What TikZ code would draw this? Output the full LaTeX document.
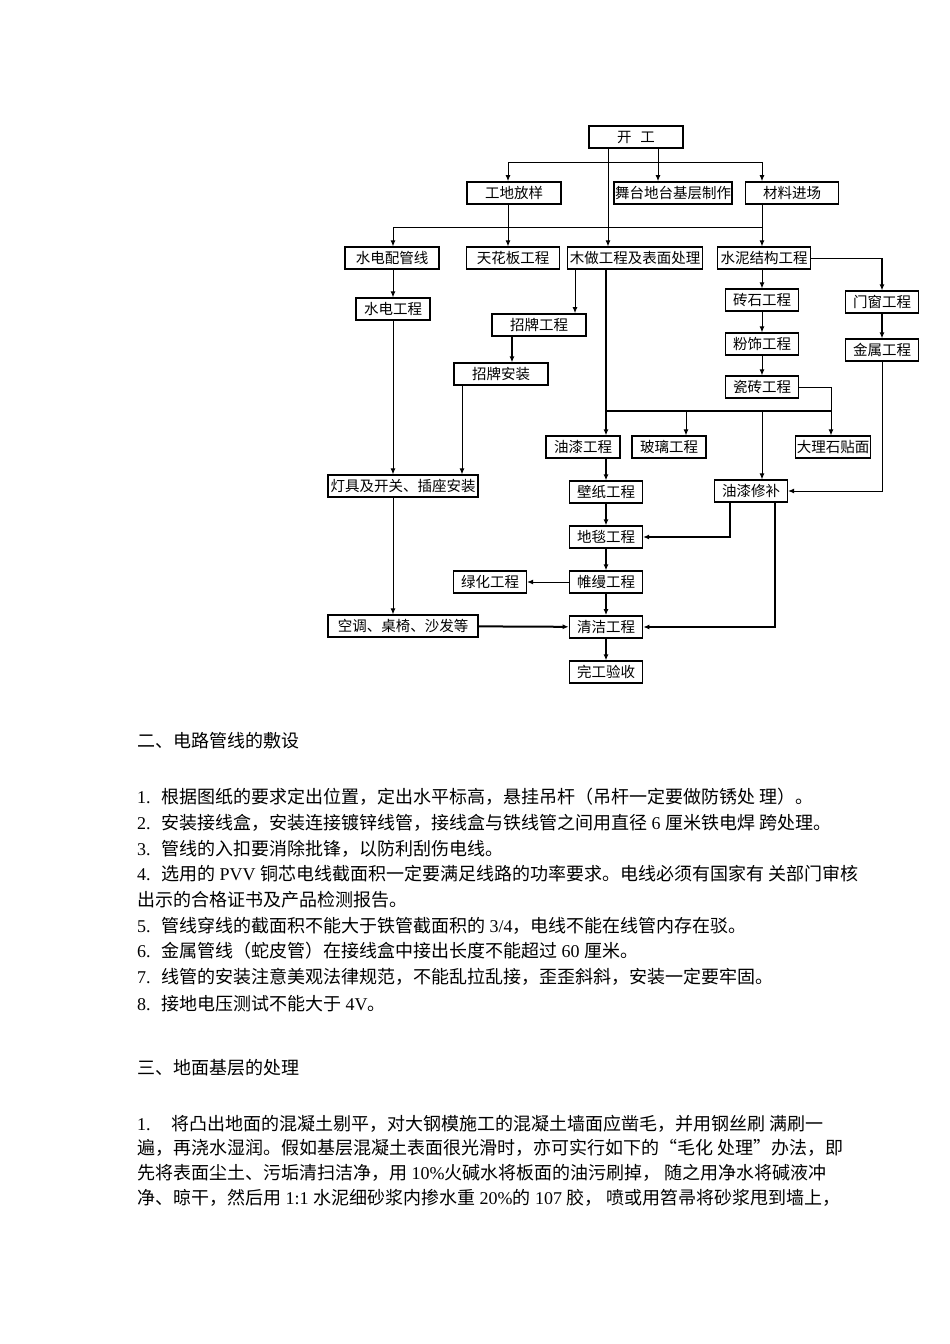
\documentclass[tikz,border=0pt]{standalone}
\usepackage{fontspec}
\setmainfont{Noto Sans CJK SC}
\newfontfamily\latn{Liberation Serif}
\usetikzlibrary{arrows.meta}
\newcommand{\itemno}[1]{\makebox[24pt][l]{\latn #1}}
\tikzset{
  box/.style={draw, line width=1.2pt, minimum height=22, inner sep=1pt, font=\fontsize{14.5}{16}\selectfont},
  heavy/.style={box, line width=1.7pt},
  txt/.style={anchor=west, inner sep=0pt, font=\fontsize{18}{20}\selectfont},
}
\begin{document}
\begin{tikzpicture}[x=1pt, y=-1pt, >={Latex[length=6pt,width=5pt]}]
		\useasboundingbox (0,0) rectangle (950,1344);
		\fill[white] (0,0) rectangle (950,1344);
		\node [box, minimum width=94] (b1) at (636,137) {开\hspace{0.6em}工};
		\node [heavy, minimum width=94] (b2) at (514,193) {工地放样};
		\node [heavy, minimum width=118] (b3) at (673,193) {舞台地台基层制作};
		\node [heavy, minimum width=93] (b4) at (792,193) {材料进场};
		\node [box, minimum width=94] (b5) at (392,258) {水电配管线};
		\node [box, minimum width=93] (b6) at (513,258) {天花板工程};
		\node [box, minimum width=135] (b7) at (635,258) {木做工程及表面处理};
		\node [box, minimum width=93] (b8) at (764,258) {水泥结构工程};
		\node [box, minimum width=74] (b9) at (393,309) {水电工程};
		\node [heavy, minimum width=94] (b10) at (539,325) {招牌工程};
		\node [box, minimum width=94] (b11) at (501,374) {招牌安装};
		\node [box, minimum width=73] (b12) at (762,300) {砖石工程};
		\node [box, minimum width=73] (b13) at (882,302) {门窗工程};
		\node [box, minimum width=73] (b14) at (762,344) {粉饰工程};
		\node [box, minimum width=73] (b15) at (882,350) {金属工程};
		\node [box, minimum width=73] (b16) at (762,387) {瓷砖工程};
		\node [box, minimum width=74] (b17) at (583,447) {油漆工程};
		\node [box, minimum width=74] (b18) at (669,447) {玻璃工程};
		\node [box, minimum width=75] (b19) at (833,447) {大理石贴面};
		\node [box, minimum width=150] (b20) at (403,486) {灯具及开关、插座安装};
		\node [box, minimum width=73] (b21) at (606,492) {壁纸工程};
		\node [box, minimum width=73] (b22) at (751,491) {油漆修补};
		\node [box, minimum width=73] (b23) at (606,537) {地毯工程};
		\node [box, minimum width=73] (b24) at (490,582) {绿化工程};
		\node [box, minimum width=73] (b25) at (606,582) {帷缦工程};
		\node [box, minimum width=150] (b26) at (403,626) {空调、桌椅、沙发等};
		\node [heavy, minimum width=73] (b27) at (606,627) {清洁工程};
		\node [box, minimum width=73] (b28) at (606,672) {完工验收};
		\coordinate (c1) at (508,162);
		\coordinate (c2) at (762,162);
		\coordinate (c3) at (393,227);
		\coordinate (c4) at (762,227);
		\coordinate (c5) at (606,411);
		\coordinate (c6) at (831,411);
		\draw[line width=1pt] (c1) -- (c2);
		\draw[line width=1pt] (c3) -- (c4);
		\draw[line width=2pt] (c5) -- (c6);
		\path[->, line width=1pt]
					(b1.south -| 658,0) edge (b3.north -| 658,0)
					(b1.south -| 608,0) edge (b7.north -| 608,0)
					(c1) edge (b2.north -| c1)
					(c2) edge (b4.north -| c2)
					(b2.south -| c1) edge (b6.north -| c1)
					(b4.south -| c2) edge (b8.north -| c2)
					(c3) edge (b5.north -| c3)
					(b5.south -| c3) edge (b9.north -| c3)
					(b7.south -| 575,0) edge (b10.north -| 575,0)
					(b8.south -| c2) edge (b12.north -| c2)
					(b12.south -| c2) edge (b14.north -| c2)
					(b14.south -| c2) edge (b16.north -| c2)
					(c5 -| 686,0) edge (b18.north -| 686,0)
					(c5 -| c2) edge (b22.north -| c2)
					(b9.south -| c3) edge (b20.north -| c3)
					(b11.south -| 462,0) edge (b20.north -| 462,0)
					(b20.south -| c3) edge (b26.north -| c3)
					(b25.west) edge (b24.east);
		\path[->, line width=2pt]
					(b7.south -| c5) edge (b17.north -| c5)
					(b10.south -| 512,0) edge (b11.north -| 512,0)
					(b13) edge (b15)
					(b17.south -| b21) edge (b21)
					(b21) edge (b23)
					(b23) edge (b25)
					(b25) edge (b27)
					(b27) edge (b28)
					(b26) edge (b27);
		\draw[->, line width=1pt] (b16.east) -| (b19.north -| c6);
		\draw[line width=1pt] (b8.east) -- (b8.east -| b13);
		\draw[->, line width=2pt] (b8.east -| b13) -- (b13.north);
		\draw[->, line width=1pt] (b15.south) |- (b22.east);
		\draw[->, line width=2pt] (b22.south -| 730,0) |- (b23.east);
		\draw[->, line width=2pt] (b22.south -| 775,0) |- (b27.east);
		\node [txt] (h1) at (137,741) {二、电路管线的敷设};
		\node [txt] (t1) at (137,797) {\itemno{1.}根据图纸的要求定出位置，定出水平标高，悬挂吊杆（吊杆一定要做防锈处\ 理）。};
		\node [txt] (t2) at (137,823) {\itemno{2.}安装接线盒，安装连接镀锌线管，接线盒与铁线管之间用直径{\latn\ 6\ }厘米铁电焊\ 跨处理。};
		\node [txt] (t3) at (137,849) {\itemno{3.}管线的入扣要消除批锋，以防利刮伤电线。};
		\node [txt] (t4) at (137,874) {\itemno{4.}选用的{\latn\ PVV\ }铜芯电线截面积一定要满足线路的功率要求。电线必须有国家有\ 关部门审核};
		\node [txt] (t5) at (137,900) {出示的合格证书及产品检测报告。};
		\node [txt] (t6) at (137,926) {\itemno{5.}管线穿线的截面积不能大于铁管截面积的{\latn\ 3/4}，电线不能在线管内存在驳。};
		\node [txt] (t7) at (137,951) {\itemno{6.}金属管线（蛇皮管）在接线盒中接出长度不能超过{\latn\ 60\ }厘米。};
		\node [txt] (t8) at (137,977) {\itemno{7.}线管的安装注意美观法律规范，不能乱拉乱接，歪歪斜斜，安装一定要牢固。};
		\node [txt] (t9) at (137,1004) {\itemno{8.}接地电压测试不能大于{\latn\ 4V}。};
		\node [txt] (h2) at (137,1068) {三、地面基层的处理};
		\node [txt] (t10) at (137,1124) {\makebox[34pt][l]{\latn 1.}将凸出地面的混凝土剔平，对大钢模施工的混凝土墙面应凿毛，并用钢丝刷\ 满刷一};
		\node [txt] (t11) at (137,1148) {遍，再浇水湿润。假如基层混凝土表面很光滑时，亦可实行如下的“毛化\ 处理”办法，即};
		\node [txt] (t12) at (137,1173) {先将表面尘土、污垢清扫洁净，用{\latn\ 10\%}火碱水将板面的油污刷掉，\ 随之用净水将碱液冲};
		\node [txt] (t13) at (137,1198) {净、晾干，然后用{\latn\ 1:1\ }水泥细砂浆内掺水重{\latn\ 20\%}的{\latn\ 107\ }胶，\ 喷或用笤帚将砂浆甩到墙上，};
	\end{tikzpicture}
\end{document}
